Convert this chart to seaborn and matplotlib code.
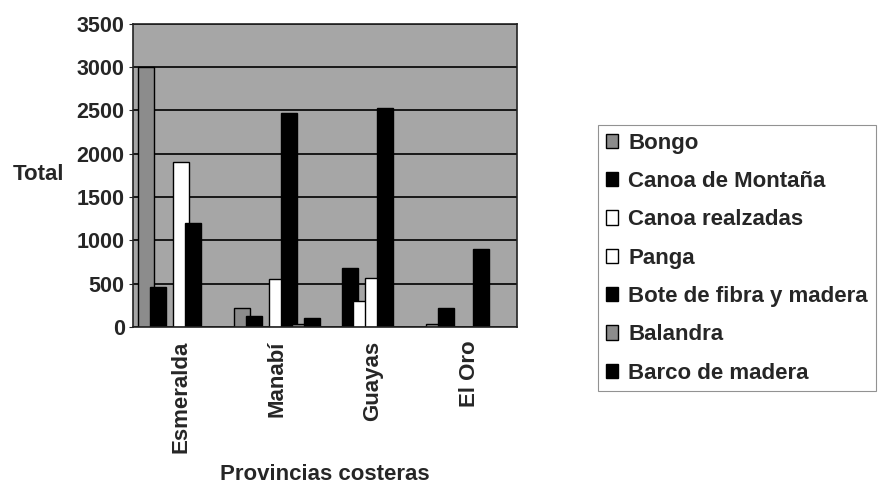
import pandas as pd
import numpy as np
import matplotlib.pyplot as plt
import seaborn as sns

# Datos
provincias = ['Esmeralda', 'Manabí', 'Guayas', 'El Oro']
series = ['Bongo', 'Canoa de Montaña', 'Canoa realzadas', 'Panga',
          'Bote de fibra y madera', 'Balandra', 'Barco de madera']
bongo = [3000, 220, 0, 30]
canoa_montana = [460, 130, 680, 220]
canoa_realzadas = [0, 0, 300, 0]
panga = [1900, 550, 570, 0]
bote_fibra = [1200, 2470, 2530, 900]
balandra = [0, 30, 0, 0]
barco_madera = [0, 100, 0, 0]
colores = ['#8c8c8c', '#000000', '#ffffff', '#ffffff', '#000000', '#8c8c8c', '#000000']

valores = [bongo, canoa_montana, canoa_realzadas, panga, bote_fibra, balandra, barco_madera]
df = pd.DataFrame({
    'Provincia': [p for _ in series for p in provincias],
    'Embarcacion': [s for s in series for _ in provincias],
    'Total': [v for vals in valores for v in vals],
})

sns.set_style('white')
plt.rcParams['font.family'] = ['Liberation Sans', 'DejaVu Sans']
plt.rcParams['font.weight'] = 'bold'

fig = plt.figure(figsize=(8.81, 4.88), dpi=100)
ax = fig.add_axes([0.151, 0.33, 0.436, 0.621])
ax.set_facecolor('#a6a6a6')

sns.barplot(data=df, x='Provincia', y='Total', hue='Embarcacion',
            hue_order=series, order=provincias, palette=colores,
            edgecolor='black', linewidth=1.0, width=0.85, ax=ax)

# columnas algo más anchas, como en el gráfico 3D original
for bar in ax.patches:
    w = bar.get_width()
    bar.set_x(bar.get_x() - w * 0.2)
    bar.set_width(w * 1.4)

ax.set_ylim(0, 3500)
ax.set_yticks(np.arange(0, 3501, 500))
ax.yaxis.grid(True, color='black', linewidth=1.2)
ax.set_axisbelow(True)
for s in ax.spines.values():
    s.set_color('#222222')
    s.set_linewidth(1.2)

ax.tick_params(axis='y', labelsize=15.5, length=3, left=True, pad=3)
ax.tick_params(axis='x', labelsize=16, rotation=90, length=0, pad=10)
for lab in ax.get_xticklabels() + ax.get_yticklabels():
    lab.set_fontweight('bold')

ax.set_ylabel('')
ax.set_xlabel('')
fig.text(0.014, 0.643, 'Total', fontsize=16, fontweight='bold', va='center')
fig.text(0.369, 0.006, 'Provincias costeras', fontsize=16, fontweight='bold', ha='center', va='bottom')

handles, labels = ax.get_legend_handles_labels()
ax.legend_.remove()
leg = fig.legend(handles, labels, loc='upper left', bbox_to_anchor=(0.679, 0.744),
                 borderaxespad=0, frameon=True, fancybox=False, edgecolor='#777777',
                 handlelength=0.55, handleheight=0.6, handletextpad=0.45,
                 labelspacing=0.78, borderpad=0.35,
                 prop={'size': 16, 'weight': 'bold'})
leg.get_frame().set_linewidth(0.8)

plt.savefig('out.png', dpi=100)
